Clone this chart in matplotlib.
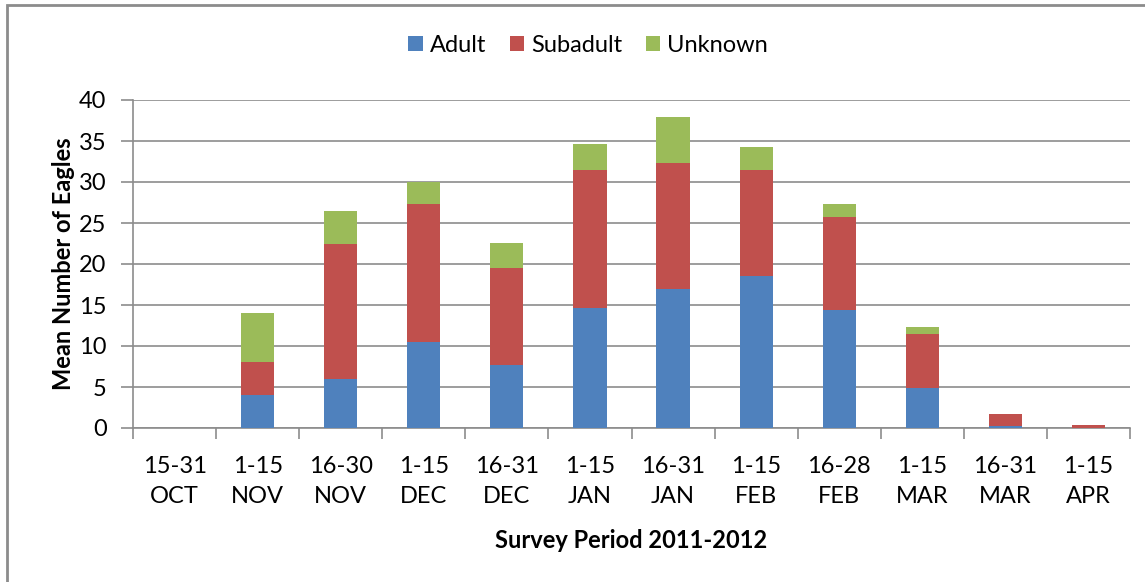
import numpy as np
import matplotlib
matplotlib.use("Agg")
import matplotlib.pyplot as plt
from matplotlib.patches import Rectangle

plt.rcParams['font.family'] = ['Lato', 'DejaVu Sans']

# survey periods 2011-2012
periods = ["15-31\nOCT", "1-15\nNOV", "16-30\nNOV", "1-15\nDEC", "16-31\nDEC",
           "1-15\nJAN", "16-31\nJAN", "1-15\nFEB", "16-28\nFEB", "1-15\nMAR",
           "16-31\nMAR", "1-15\nAPR"]
adult    = [0, 4.0, 6.0, 10.5, 7.7, 14.6, 16.9, 18.5, 14.4, 4.9, 0.3, 0.0]
subadult = [0, 4.0, 16.5, 16.8, 11.8, 16.9, 15.4, 13.0, 11.3, 6.6, 1.45, 0.33]
unknown  = [0, 6.0, 4.0, 2.7, 3.1, 3.1, 5.6, 2.8, 1.6, 0.8, 0.0, 0.0]

c_adult, c_sub, c_unk = '#4F81BD', '#C0504D', '#9BBB59'
grid_col = '#8C8C8C'

fig = plt.figure(figsize=(11.45, 5.82), dpi=100)
ax = fig.add_axes([133/1145, 1-428/582, (1130-133)/1145, (428-100)/582])

x = np.arange(len(periods))
w = 0.4
bottom2 = np.array(adult) + np.array(subadult)
ax.bar(x, adult, w, color=c_adult, label='Adult', zorder=3)
ax.bar(x, subadult, w, bottom=adult, color=c_sub, label='Subadult', zorder=3)
ax.bar(x, unknown, w, bottom=bottom2, color=c_unk, label='Unknown', zorder=3)

ax.set_xlim(-0.5, len(periods) - 0.5)
ax.set_ylim(0, 40)
ax.set_yticks(np.arange(0, 41, 5))
ax.yaxis.grid(True, color=grid_col, lw=1.2, zorder=0)
ax.set_axisbelow(True)

ax.set_xticks(x)
ax.set_xticklabels(periods, fontsize=17, linespacing=1.55)
ax.set_xticks(np.arange(-0.5, len(periods), 1), minor=True)
ax.tick_params(axis='x', which='major', length=0, pad=20)
ax.tick_params(axis='x', which='minor', length=8, width=1.2, color=grid_col)
ax.tick_params(axis='y', length=9, width=1.2, color=grid_col, labelsize=17, pad=10)

for s in ['top', 'right']:
    ax.spines[s].set_visible(False)
for s in ['left', 'bottom']:
    ax.spines[s].set_color(grid_col)
    ax.spines[s].set_linewidth(1.2)

ax.set_ylabel("Mean Number of Eagles", fontsize=17, fontweight='bold', labelpad=3)
ax.set_xlabel("Survey Period 2011-2012", fontsize=17, fontweight='bold', labelpad=16)

fig.legend(loc='center', bbox_to_anchor=(588/1145, 1-45/582), ncol=3,
           frameon=False, fontsize=17, handlelength=0.6, handleheight=0.6,
           handletextpad=0.3, columnspacing=1.0)

# chart border
fig.patches.append(Rectangle((7/1145, -0.1), 1.2, 1 - 5/582 + 0.1,
                             transform=fig.transFigure, fill=False,
                             ec='#8C8C8C', lw=2))

fig.savefig('out.png', dpi=100)
